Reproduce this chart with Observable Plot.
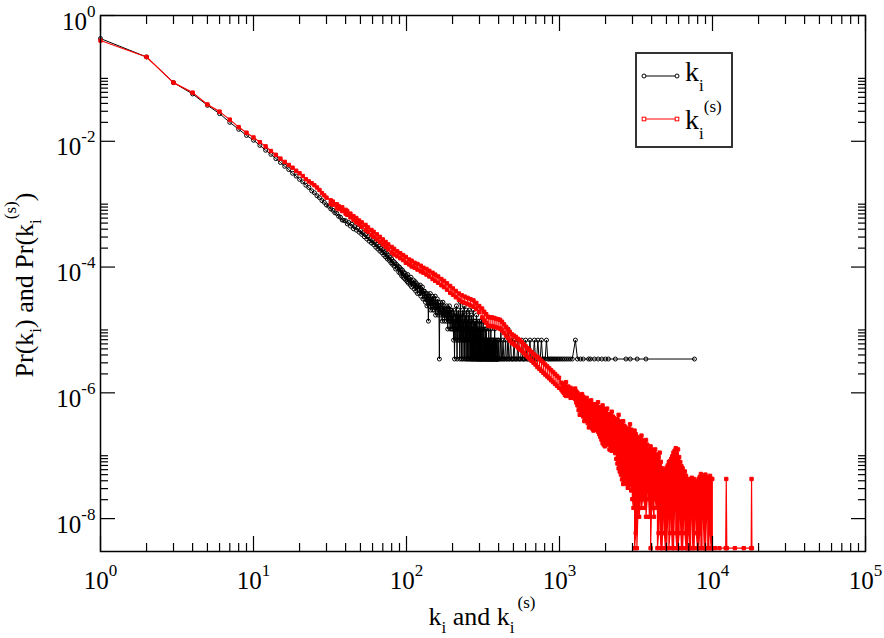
<!DOCTYPE html>
<html>
<head>
<meta charset="utf-8">
<script src="https://cdn.jsdelivr.net/npm/d3@7"></script>
<script src="https://cdn.jsdelivr.net/npm/@observablehq/plot@0.6"></script>
<style>
  html, body { margin: 0; padding: 0; background: #fff; }
  #chart svg { display: block; }
  #chart svg text, #chart svg tspan { font-family: "Liberation Serif", "Times New Roman", serif; }
</style>
</head>
<body>
<div id="chart"></div>
<script>
// ---------------- DATA ----------------
// Series k_i : probabilities for k = 1..39
const blackHeadP = [0.43, 0.219, 0.0857, 0.0565, 0.0373, 0.0275, 0.0200, 0.0155, 0.0124, 0.0104,
  0.0086, 0.0072, 0.0062, 0.0053, 0.0046, 0.0040, 0.00355, 0.0031, 0.0028, 0.00248,
  0.00226, 0.0020, 0.00184, 0.00163, 0.00152, 0.00136, 0.00127, 0.00114, 0.00107, 0.00097,
  0.00093, 0.00084, 0.00080, 0.00073, 0.00071, 0.00064, 0.00062, 0.00056, 0.00055];
// Series k_i : node counts for k = 40..399 (0 = no node with that degree)
const blackTotal = 290000;
const blackCountStart = 40;
const blackCounts = [
  158,141,148,130,139,118,127,112,121,104,
  111,96,102,88,95,81,88,75,82,70,
  77,66,72,60,67,56,63,52,58,49,
  55,45,51,42,48,39,45,37,42,34,
  39,32,36,30,34,27,32,28,30,24,
  29,23,27,21,26,20,24,19,23,18,
  21,17,22,16,19,18,15,20,14,17,
  16,18,13,15,17,12,16,14,11,15,
  13,14,11,15,10,13,12,14,9,12,
  11,12,9,8,11,10,7,11,9,4,
  10,7,9,11,6,8,9,7,10,6,
  8,9,6,7,10,5,8,7,6,9,
  7,5,8,6,1,7,6,8,5,6,
  6,4,6,8,5,5,7,4,6,5,
  6,5,4,7,5,6,3,5,6,4,
  5,7,4,3,6,5,4,6,3,5,
  3,5,4,2,6,3,1,4,3,5,
  2,4,7,3,1,5,3,2,6,3,
  4,2,5,1,3,8,2,4,3,1,
  5,3,2,6,1,4,2,3,7,2,
  1,3,5,2,4,1,6,2,3,1,
  4,2,1,5,3,2,1,6,2,3,
  1,4,2,1,3,5,1,2,4,1,
  3,1,2,6,1,3,2,1,4,2,
  1,2,4,1,3,1,2,5,1,2,
  3,1,1,4,2,1,3,1,2,1,
  2,4,1,1,3,1,2,1,4,1,
  1,2,3,1,1,2,0,4,1,2,
  1,3,1,2,1,0,2,1,3,1,
  2,1,0,3,1,2,1,1,0,2,
  1,1,2,0,1,3,1,0,2,1,
  1,0,2,1,1,0,3,1,1,0,
  2,1,0,1,2,1,0,1,1,2,
  0,1,1,2,0,1,0,3,1,0,
  1,2,0,1,1,0,1,2,0,1,
  1,0,1,1,0,2,1,0,1,0];
// Series k_i : sparse tail (degree, count)
const blackTailK = [401,405,409,414,418,423,427,433,438,444,
  449,455,461,466,472,479,485,492,498,505,
  511,519,527,534,541,549,558,566,575,583,
  592,601,611,620,630,641,651,662,673,685,
  697,709,722,735,748,762,776,791,806,822,
  838,855,873,891,910,930,951,973,996,1021,
  1048,1077,1108,1140,1175,1212,1270,1310,1371,1430,
  1549,1592,1690,1788,1891,1996,2088,2318,2718,2900,
  3220,3670,7625];
const blackTailC = [2,1,1,3,1,1,2,1,1,2,
  1,1,3,1,1,2,1,1,1,2,
  1,1,1,2,1,1,1,2,1,1,
  1,2,1,1,1,2,1,1,1,2,
  1,1,2,1,1,2,1,1,1,2,
  1,1,1,1,1,1,1,1,1,1,
  1,1,1,1,1,1,2,1,1,1,
  1,1,1,1,1,1,1,1,1,1,
  1,1,1];

// Series k_i^(s) : probabilities for k = 1..30
const redHeadP = [0.40, 0.219, 0.0857, 0.0594, 0.0385, 0.0296, 0.0221, 0.0168, 0.0137, 0.0115,
  0.0097, 0.0083, 0.0070, 0.0061, 0.0053, 0.0047, 0.0042, 0.0038, 0.0034, 0.0031,
  0.0028, 0.0025, 0.0023, 0.00215, 0.00200, 0.00184, 0.00168, 0.00150, 0.00138, 0.00127];
// Series k_i^(s) : noisy band, upper and lower values at each strength
const redK = [32,33,35,36,38,40,41,43,45,47,49,51,54,56,59,61,64,67,70,73,76,80,83,87,91,95,99,
  104,108,113,118,124,129,135,141,148,154,161,169,176,184,193,201,210,220,230,240,251,262,274,286,299,
  312,322,332,342,352,363,374,385,397,409,421,434,447,460,474,488,503,518,534,550,566,583,601,619,637,
  656,676,696,717,739,761,784,807,832,857,882,909,936,964,993,
  1030,1048,1066,1084,1103,1122,1142,1162,1182,1202,1223,1244,1266,1288,1310,1333,1356,1380,1404,1428,
  1453,1478,1504,1530,1556,1583,1611,1639,1667,1696,1725,1755,1786,1817,1848,1880,1913,1946,1980,2014,
  2049,2085,2121,2158,2195,2233,2272,2311,2351,2392,2434,2476,2519,2563,2607,2652,2698,2745,2793,2841,
  2890,2941,2992,3044,3096,3150,3205,3261,3317,3375,3433,3493,3553,3615,3677,3741,3806,3872,3939,4008,
  4077,4148,4220,4293,4367,4443,4520,4599,4678,4760,4842,4926,5011,5098,5187,5277,5368,5461,5556,5653,
  5751,5851,5952,6055,6160,6267,6376,6487,6599,6714,6830,6949,7069,7192,7316,7443,7572,7704,7837,7973,
  8112,8253,8396,8542,8689,8840,8993,9149,9308,9470,9634,9801,9971];
const redHi = [1.15e-3,1.10e-3,1.00e-3,9.33e-4,8.91e-4,8.13e-4,7.76e-4,7.08e-4,6.46e-4,6.03e-4,5.50e-4,5.13e-4,4.68e-4,4.27e-4,3.89e-4,3.63e-4,3.31e-4,3.02e-4,2.75e-4,2.51e-4,2.29e-4,2.09e-4,1.95e-4,1.78e-4,1.66e-4,1.55e-4,1.45e-4,
  1.32e-4,1.26e-4,1.17e-4,1.12e-4,1.05e-4,9.77e-5,9.33e-5,8.71e-5,8.13e-5,7.59e-5,7.08e-5,6.46e-5,6.03e-5,5.50e-5,5.01e-5,4.57e-5,4.17e-5,3.80e-5,3.55e-5,3.39e-5,3.24e-5,3.09e-5,2.95e-5,2.69e-5,2.40e-5,
  2.19e-5,1.95e-5,1.78e-5,1.62e-5,1.58e-5,1.58e-5,1.55e-5,1.51e-5,1.48e-5,1.45e-5,1.35e-5,1.23e-5,1.12e-5,1.02e-5,9.33e-6,8.51e-6,8.13e-6,7.76e-6,7.24e-6,6.92e-6,6.46e-6,5.89e-6,5.50e-6,5.13e-6,4.79e-6,
  4.47e-6,4.17e-6,3.89e-6,3.72e-6,3.47e-6,3.24e-6,3.02e-6,2.82e-6,2.63e-6,2.45e-6,2.29e-6,2.14e-6,2.00e-6,1.86e-6,1.74e-6,
  1.45e-6,1.30e-6,1.38e-6,1.35e-6,1.48e-6,1.22e-6,1.26e-6,1.15e-6,1.20e-6,1.10e-6,1.12e-6,1.05e-6,1.17e-6,1.05e-6,1.00e-6,9.3e-7,8.91e-7,8.5e-7,9.55e-7,8.7e-7,
  7.94e-7,7.6e-7,8.32e-7,7.4e-7,7.08e-7,6.9e-7,7.59e-7,6.6e-7,6.31e-7,6.0e-7,6.61e-7,6.4e-7,7.08e-7,5.9e-7,5.62e-7,5.4e-7,6.31e-7,5.5e-7,5.01e-7,4.8e-7,
  5.62e-7,4.6e-7,4.47e-7,4.3e-7,5.01e-7,4.2e-7,3.98e-7,3.6e-7,3.55e-7,3.8e-7,4.47e-7,3.5e-7,3.16e-7,3.3e-7,3.55e-7,3.0e-7,2.82e-7,2.6e-7,2.51e-7,2.7e-7,
  3.16e-7,2.6e-7,2.24e-7,2.1e-7,2.51e-7,2.2e-7,2.00e-7,1.7e-7,1.78e-7,1.9e-7,2.09e-7,1.75e-7,1.58e-7,1.6e-7,1.78e-7,1.5e-7,1.26e-7,1.2e-7,1.41e-7,1.25e-7,
  1.12e-7,1.15e-7,1.26e-7,1.05e-7,1.00e-7,9.5e-8,1.12e-7,8.0e-8,6.31e-8,5.5e-8,5.62e-8,6.0e-8,6.46e-8,7.0e-8,7.94e-8,8.2e-8,8.91e-8,9.8e-8,1.12e-7,1.2e-7,
  1.32e-7,1.05e-7,1.26e-7,9.5e-8,7.94e-8,6.8e-8,6.31e-8,5.5e-8,5.62e-8,4.8e-8,4.27e-8,4.1e-8,3.98e-8,4.2e-8,4.47e-8,4.0e-8,4.27e-8,3.8e-8,3.55e-8,3.9e-8,
  4.27e-8,4.6e-8,5.13e-8,4.8e-8,4.47e-8,4.2e-8,5.01e-8,4.5e-8,4.27e-8,4.4e-8,4.79e-8,4.3e-8,4.27e-8];
const redLo = [1.02e-3,9.77e-4,8.71e-4,8.32e-4,7.76e-4,7.08e-4,6.76e-4,6.17e-4,5.62e-4,5.13e-4,4.79e-4,4.37e-4,3.89e-4,3.63e-4,3.24e-4,3.02e-4,2.75e-4,2.51e-4,2.29e-4,2.09e-4,1.91e-4,1.70e-4,1.58e-4,1.48e-4,1.38e-4,1.29e-4,1.17e-4,
  1.10e-4,1.02e-4,9.77e-5,9.12e-5,8.51e-5,8.13e-5,7.59e-5,7.08e-5,6.46e-5,6.03e-5,5.62e-5,5.13e-5,4.79e-5,4.37e-5,3.89e-5,3.63e-5,3.31e-5,3.02e-5,2.82e-5,2.69e-5,2.57e-5,2.45e-5,2.34e-5,2.14e-5,1.91e-5,
  1.58e-5,1.41e-5,1.29e-5,1.17e-5,1.15e-5,1.15e-5,1.12e-5,1.10e-5,1.07e-5,1.05e-5,9.77e-6,8.91e-6,8.13e-6,7.41e-6,6.76e-6,6.17e-6,5.89e-6,5.62e-6,5.25e-6,4.90e-6,4.68e-6,4.27e-6,3.98e-6,3.72e-6,3.47e-6,
  3.24e-6,3.02e-6,2.82e-6,2.57e-6,2.40e-6,2.24e-6,2.09e-6,1.95e-6,1.82e-6,1.70e-6,1.58e-6,1.48e-6,1.38e-6,1.29e-6,1.20e-6,
  1.12e-6,1.05e-6,1.00e-6,9.3e-7,8.91e-7,9.1e-7,9.55e-7,8.9e-7,8.32e-7,8.6e-7,8.91e-7,8.3e-7,7.94e-7,7.0e-7,6.31e-7,5.3e-7,4.47e-7,4.8e-7,5.01e-7,4.2e-7,
  3.55e-7,3.8e-7,3.98e-7,3.3e-7,2.82e-7,3.0e-7,3.16e-7,2.7e-7,2.51e-7,2.6e-7,2.82e-7,2.6e-7,2.40e-7,2.2e-7,2.00e-7,1.8e-7,1.58e-7,1.5e-7,1.41e-7,1.6e-7,
  1.78e-7,1.5e-7,1.26e-7,1.23e-7,1.20e-7,1.25e-7,1.32e-7,1.1e-7,8.91e-8,7.5e-8,6.31e-8,5.6e-8,5.01e-8,4.2e-8,3.55e-8,4.0e-8,4.47e-8,3.6e-8,3.09e-8,3.5e-8,
  3.98e-8,2.8e-8,2.04e-8,1.48e-8,3.39e-9,5.89e-9,3.39e-9,1.48e-8,1.07e-8,2.04e-8,1.48e-8,2.04e-8,2.04e-8,1.48e-8,1.07e-8,2.04e-8,2.75e-8,1.07e-8,3.39e-9,2.04e-8,
  1.48e-8,1.07e-8,2.04e-8,1.48e-8,3.39e-9,5.89e-9,1.07e-8,3.39e-9,3.39e-9,1.07e-8,5.89e-9,3.39e-9,3.39e-9,1.07e-8,3.39e-9,5.89e-9,1.07e-8,3.39e-9,3.39e-9,1.48e-8,
  5.89e-9,3.39e-9,3.39e-9,5.89e-9,1.07e-8,3.39e-9,3.39e-9,1.07e-8,5.89e-9,3.39e-9,3.39e-9,5.89e-9,3.39e-9,3.39e-9,1.07e-8,3.39e-9,3.39e-9,1.07e-8,5.89e-9,3.39e-9,
  3.39e-9,5.89e-9,3.39e-9,3.39e-9,1.07e-8,3.39e-9,3.39e-9,1.07e-8,3.39e-9,3.39e-9,5.89e-9,3.39e-9,3.39e-9];
// Series k_i^(s) : far tail
const redTailK = [10400, 11100, 12200, 12300, 12400, 14000, 16000, 17900, 18000, 18100];
const redTailP = [3.39e-9, 3.39e-9, 3.39e-9, 4.27e-8, 3.39e-9, 3.39e-9, 3.39e-9, 3.39e-9, 4.27e-8, 3.39e-9];

// Axis ticks
const xMajor = [1, 10, 100, 1000, 10000, 100000];
const yMajor = [1, 1e-2, 1e-4, 1e-6, 1e-8];

// ---------------- BUILD TABLES ----------------
const black = [];
blackHeadP.forEach((p, i) => black.push({k: i + 1, p}));
blackCounts.forEach((c, i) => { if (c > 0) black.push({k: blackCountStart + i, p: c / blackTotal}); });
blackTailK.forEach((k, i) => black.push({k, p: blackTailC[i] / blackTotal}));

const red = [];
redHeadP.forEach((p, i) => red.push({k: i + 1, p}));
redK.forEach((k, i) => {
  if (i % 2 === 0) { red.push({k, p: redHi[i]}); red.push({k, p: redLo[i]}); }
  else { red.push({k, p: redLo[i]}); red.push({k, p: redHi[i]}); }
});
redTailK.forEach((k, i) => red.push({k, p: redTailP[i]}));

const xMinor = [];
xMajor.slice(0, -1).forEach(m => { for (let j = 2; j <= 9; j++) xMinor.push(j * m); });
const yMinor = [];
yMajor.slice(1).forEach(m => { for (let j = 2; j <= 10; j++) yMinor.push(j * m); });

const expFmt = d => String(Math.round(Math.log10(d)));
const noText = () => "";
const tk = {label: null, tickFormat: noText, strokeWidth: 1.2};
const ff = "'Liberation Serif', 'Times New Roman', serif";

const chart = Plot.plot({
  width: 884, height: 638,
  marginLeft: 100, marginRight: 19, marginTop: 15, marginBottom: 87,
  style: {fontFamily: ff, fontSize: "25px", color: "black", background: "white", overflow: "visible"},
  x: {type: "log", domain: [1, 1e5], label: null},
  y: {type: "log", domain: [3e-9, 1], label: null},
  marks: [
    Plot.line(black, {x: "k", y: "p", stroke: "black", strokeWidth: 1}),
    Plot.dot(black, {x: "k", y: "p", r: 2, stroke: "black", strokeWidth: 1, fill: "none"}),
    Plot.line(red, {x: "k", y: "p", stroke: "#ff0000", strokeWidth: 1.2}),
    Plot.dot(red, {x: "k", y: "p", r: 1.9, symbol: "square", stroke: "#ff0000", strokeWidth: 1, fill: "#ff0000"}),
    Plot.axisX({...tk, ticks: xMajor, anchor: "bottom", tickSize: -15}),
    Plot.axisX({...tk, ticks: xMinor, anchor: "bottom", tickSize: -8}),
    Plot.axisX({...tk, ticks: xMajor, anchor: "top", tickSize: -15}),
    Plot.axisX({...tk, ticks: xMinor, anchor: "top", tickSize: -8}),
    Plot.axisY({...tk, ticks: yMajor, anchor: "left", tickSize: -15}),
    Plot.axisY({...tk, ticks: yMinor, anchor: "left", tickSize: -8}),
    Plot.axisY({...tk, ticks: yMajor, anchor: "right", tickSize: -15}),
    Plot.axisY({...tk, ticks: yMinor, anchor: "right", tickSize: -8}),
    Plot.axisX({ticks: xMajor, anchor: "bottom", tickSize: 0, tickPadding: 37, lineAnchor: "bottom", tickFormat: expFmt, fontSize: 25, label: null}),
    Plot.axisY({ticks: yMajor, anchor: "left", tickSize: 0, tickPadding: 5, lineAnchor: "bottom", dy: 14, tickFormat: expFmt, fontSize: 25, label: null}),
    Plot.frame({stroke: "black", strokeWidth: 1.5})
  ]
});
document.getElementById("chart").appendChild(chart);

// superscript exponents on the tick labels
const svg = d3.select(chart);
svg.selectAll('g[aria-label="x-axis tick label"] text, g[aria-label="y-axis tick label"] text').each(function () {
  const e = this.textContent;
  if (!e) return;
  const t = d3.select(this);
  t.text(null);
  t.append("tspan").text("10");
  t.append("tspan").attr("dy", -13).attr("font-size", 17).text(e);
});

// axis titles
const xt = svg.append("text").attr("x", 482).attr("y", 625).attr("text-anchor", "middle")
  .style("font-family", ff).attr("font-size", 26).attr("fill", "black");
xt.append("tspan").text("k");
xt.append("tspan").attr("dy", 8).attr("font-size", 17).text("i");
xt.append("tspan").attr("dy", -8).text(" and k");
xt.append("tspan").attr("dy", 8).attr("font-size", 17).text("i");
xt.append("tspan").attr("dy", -25).attr("dx", 3).attr("font-size", 17).text("(s)");

const yt = svg.append("text").attr("transform", "translate(33,285) rotate(-90)").attr("text-anchor", "middle")
  .style("font-family", ff).attr("font-size", 26).attr("fill", "black");
yt.append("tspan").text("Pr(k");
yt.append("tspan").attr("dy", 8).attr("font-size", 17).text("i");
yt.append("tspan").attr("dy", -8).text(") and Pr(k");
yt.append("tspan").attr("dy", 8).attr("font-size", 17).text("i");
yt.append("tspan").attr("dy", -25).attr("font-size", 17).text("(s)");
yt.append("tspan").attr("dy", 17).text(")");

// legend
const lg = svg.append("g").style("font-family", ff).attr("fill", "black").attr("text-anchor", "start");
lg.append("rect").attr("x", 636).attr("y", 53).attr("width", 96).attr("height", 94)
  .attr("fill", "white").attr("stroke", "#333").attr("stroke-width", 2);
lg.append("line").attr("x1", 644).attr("x2", 677).attr("y1", 76).attr("y2", 76).attr("stroke", "black");
[644, 677].forEach(x => lg.append("circle").attr("cx", x).attr("cy", 76).attr("r", 2).attr("fill", "white").attr("stroke", "black"));
lg.append("line").attr("x1", 644).attr("x2", 677).attr("y1", 119).attr("y2", 119).attr("stroke", "#ff0000");
[644, 677].forEach(x => lg.append("rect").attr("x", x - 1.8).attr("y", 119 - 1.8).attr("width", 3.6).attr("height", 3.6).attr("fill", "white").attr("stroke", "#ff0000"));
const l1 = lg.append("text").attr("x", 685).attr("y", 81).attr("font-size", 28).attr("text-anchor", "start");
l1.append("tspan").text("k");
l1.append("tspan").attr("dy", 10).attr("font-size", 17).text("i");
const l2 = lg.append("text").attr("x", 685).attr("y", 129).attr("font-size", 28).attr("text-anchor", "start");
l2.append("tspan").text("k");
l2.append("tspan").attr("dy", 10).attr("font-size", 17).text("i");
l2.append("tspan").attr("dy", -27).attr("font-size", 17).text("(s)");
</script>
</body>
</html>
